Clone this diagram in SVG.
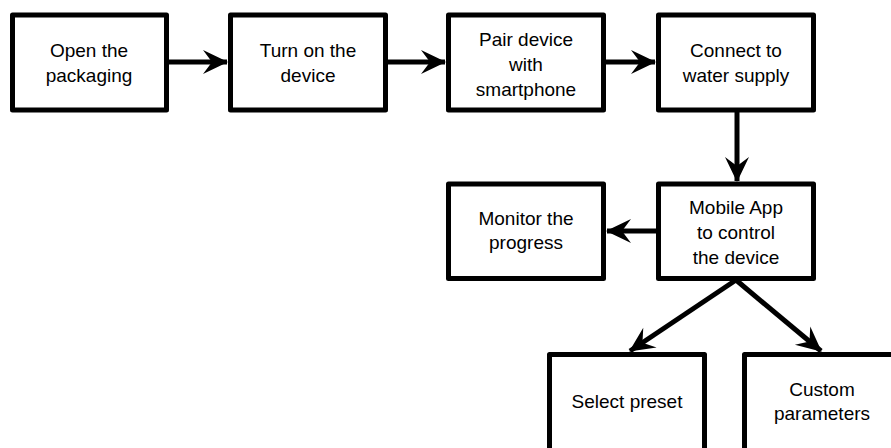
<svg xmlns="http://www.w3.org/2000/svg" width="891" height="448" viewBox="0 0 891 448">
<style>
.box{fill:#fff;stroke:#000;stroke-width:5;stroke-linejoin:round}
.t{font-family:"Liberation Sans",Arial,sans-serif;font-size:19px;fill:#000;text-anchor:middle}
.c{stroke:#000;stroke-width:5;fill:none;marker-end:url(#ah)}
</style>
<defs>
<marker id="ah" markerUnits="userSpaceOnUse" viewBox="-26 -13 28 26" refX="0" refY="0" markerWidth="28" markerHeight="26" orient="auto">
<path d="M1,0 L-24,-12 L-15,0 L-24,12 Z" fill="#000"/>
</marker>
</defs>
<rect width="891" height="448" fill="#fff"/>
<g id="connectors">
<line class="c" x1="166" y1="62" x2="227" y2="62"/>
<line class="c" x1="385" y1="62" x2="445" y2="62"/>
<line class="c" x1="603" y1="62" x2="655" y2="62"/>
<line class="c" x1="737" y1="110" x2="737" y2="181"/>
<line class="c" x1="659" y1="231" x2="607" y2="231"/>
<line class="c" x1="736" y1="280" x2="630" y2="351"/>
<line class="c" x1="736" y1="280" x2="821" y2="351"/>
</g>
<g id="n1"><rect class="box" x="12.5" y="15" width="154" height="95"/>
<text class="t" x="89" y="57">Open the</text><text class="t" x="89" y="82">packaging</text></g>
<g id="n2"><rect class="box" x="230.5" y="15" width="155" height="95"/>
<text class="t" x="308" y="57">Turn on the</text><text class="t" x="308" y="82">device</text></g>
<g id="n3"><rect class="box" x="448.5" y="15" width="155" height="95"/>
<text class="t" x="526" y="46">Pair device</text><text class="t" x="526" y="71">with</text><text class="t" x="526" y="96">smartphone</text></g>
<g id="n4"><rect class="box" x="658.5" y="15" width="155" height="95"/>
<text class="t" x="736" y="57">Connect to</text><text class="t" x="736" y="82">water supply</text></g>
<g id="n5"><rect class="box" x="658.5" y="184" width="155" height="94.5"/>
<text class="t" x="736" y="214">Mobile App</text><text class="t" x="736" y="239">to control</text><text class="t" x="736" y="264">the device</text></g>
<g id="n6"><rect class="box" x="448.5" y="184" width="155" height="94.5"/>
<text class="t" x="526" y="225">Monitor the</text><text class="t" x="526" y="249">progress</text></g>
<g id="n7"><rect class="box" x="549.5" y="354.5" width="155" height="110"/>
<text class="t" x="627" y="408">Select preset</text></g>
<g id="n8"><rect class="box" x="744.5" y="354.5" width="155" height="110"/>
<text class="t" x="822" y="396">Custom</text><text class="t" x="822" y="420">parameters</text></g>
</svg>
